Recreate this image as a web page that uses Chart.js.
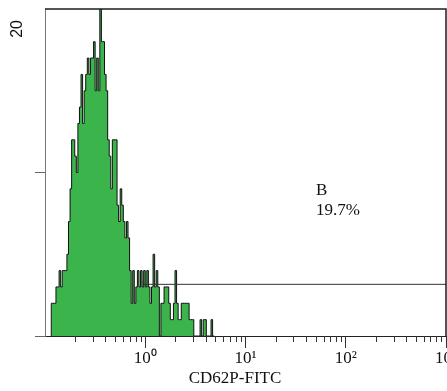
<!DOCTYPE html>
<html>
<head>
<meta charset="utf-8">
<script src="https://cdn.jsdelivr.net/npm/chart.js@4/dist/chart.umd.min.js"></script>
<style>
  html, body { margin: 0; padding: 0; background: #fff; overflow: hidden; }
  #wrap { width: 447px; height: 391px; }
</style>
</head>
<body>
<div id="wrap"><canvas id="c" width="447" height="391"></canvas></div>
<script>
// ---- data ----
const channelsPerDecade = 64;          // 256-channel log histogram over 4 decades
const firstChannel = 4;                // channel index of first entry in counts
const counts = [
  0, 2, 2, 2, 3, 3, 4, 3, 4, 4, 4, 5, 7, 9, 12, 12, 11, 10, 13, 14,
  16, 13, 15, 16, 17, 16, 17, 17, 18, 15, 17, 15, 21, 18, 18, 16, 15, 12, 11, 9,
  12, 12, 12, 8, 7, 9, 8, 7, 6, 7, 6, 4, 2, 4, 2, 3, 4, 3, 4, 3,
  4, 3, 4, 3, 2, 3, 5, 3, 4, 3, 0, 2, 2, 3, 3, 3, 2, 1, 1, 2,
  4, 2, 1, 1, 2, 2, 2, 2, 2, 1, 1, 1, 0, 0, 0, 0, 1, 0, 1, 1,
  0, 0, 0, 1, 0
];
const xMajorTicks = [1, 10, 100, 1000];
const xMajorLabels = ['10\u2070', '10\u00B9', '10\u00B2', '10\u00B3'];
const yTicks = [0, 10, 20];
const yTickLabels = ['', '', '20'];
const gate = { from: 0.955, to: 1000, level: 3.16, label: 'B', percent: '19.7%' };
const xTitle = 'CD62P-FITC';

// ---- build ----
const histPoints = counts.map((c, j) => ({
  x: Math.pow(10, -1 + (firstChannel + j) / channelsPerDecade),
  y: c
}));

const minorTicks = [];
for (let e = -1; e < 3; e++) for (let k = 2; k <= 9; k++) minorTicks.push(k * Math.pow(10, e));

const serif = '"Liberation Serif", "Times New Roman", serif';

const extras = {
  id: 'extras',
  afterDraw(chart) {
    const { ctx, chartArea: a, scales: { x, y } } = chart;
    ctx.save();
    // minor x ticks
    ctx.strokeStyle = '#333';
    ctx.lineWidth = 1;
    ctx.beginPath();
    minorTicks.forEach(v => {
      const px = Math.round(x.getPixelForValue(v)) + 0.5;
      ctx.moveTo(px, a.bottom);
      ctx.lineTo(px, a.bottom + 6);
    });
    ctx.stroke();
    // top / right frame
    ctx.strokeStyle = '#1e1e1e';
    ctx.lineWidth = 1.5;
    ctx.beginPath();
    ctx.moveTo(a.left, a.top);
    ctx.lineTo(a.right, a.top);
    ctx.lineTo(a.right, a.bottom);
    ctx.stroke();
    // texts
    ctx.fillStyle = '#111';
    ctx.font = '17px ' + serif;
    ctx.textAlign = 'left';
    ctx.textBaseline = 'alphabetic';
    ctx.fillText(gate.label, 316, 195);
    ctx.fillText(gate.percent, 316, 215);
    ctx.textAlign = 'center';
    ctx.fillText(xTitle, 235, 383);
    ctx.restore();
  }
};

new Chart(document.getElementById('c'), {
  type: 'line',
  data: {
    datasets: [
      {
        data: histPoints,
        stepped: 'after',
        fill: 'origin',
        backgroundColor: '#3BB44B',
        borderColor: '#111',
        borderWidth: 1,
        pointRadius: 0,
        order: 2
      },
      {
        data: [{ x: gate.from, y: gate.level }, { x: gate.to, y: gate.level }],
        borderColor: '#333',
        borderWidth: 1,
        pointRadius: 0,
        fill: false,
        order: 1
      },
      {
        data: [{ x: gate.from, y: gate.level - 0.18 }, { x: gate.from, y: gate.level + 0.22 }],
        borderColor: '#333',
        borderWidth: 1,
        pointRadius: 0,
        fill: false,
        order: 1
      }
    ]
  },
  options: {
    responsive: false,
    animation: false,
    layout: { padding: { top: 9, right: 1, left: 0, bottom: 0 } },
    plugins: { legend: { display: false }, tooltip: { enabled: false } },
    scales: {
      x: {
        type: 'logarithmic',
        min: 0.1,
        max: 1000,
        afterBuildTicks(s) { s.ticks = xMajorTicks.map(v => ({ value: v, major: true })); },
        afterFit(s) { s.height = 55; s.paddingLeft = 0; s.paddingRight = 0; },
        grid: { drawOnChartArea: false, tickLength: 12, color: '#333', tickColor: '#333' },
        border: { color: '#222', width: 1 },
        ticks: {
          autoSkip: false,
          maxRotation: 0,
          minRotation: 0,
          padding: 0,
          color: '#111',
          font: { family: serif, size: 17 },
          callback(v) { const i = xMajorTicks.indexOf(v); return i >= 0 ? xMajorLabels[i] : ''; }
        }
      },
      y: {
        type: 'linear',
        min: 0,
        max: 20,
        afterBuildTicks(s) { s.ticks = yTicks.map(v => ({ value: v })); },
        afterFit(s) { s.width = 45; s.paddingTop = 0; s.paddingBottom = 0; },
        grid: {
          drawOnChartArea: false,
          tickLength: 10,
          tickColor: c => (c.tick && c.tick.value === 20) ? 'rgba(0,0,0,0)' : '#666'
        },
        border: { color: '#777', width: 1 },
        ticks: {
          autoSkip: false,
          minRotation: 90,
          maxRotation: 90,
          padding: 17,
          labelOffset: 11,
          color: '#111',
          font: { family: '"Liberation Sans", Arial, sans-serif', size: 16 },
          callback(v) { const i = yTicks.indexOf(v); return i >= 0 ? yTickLabels[i] : ''; }
        }
      }
    }
  },
  plugins: [extras]
});
</script>
</body>
</html>
